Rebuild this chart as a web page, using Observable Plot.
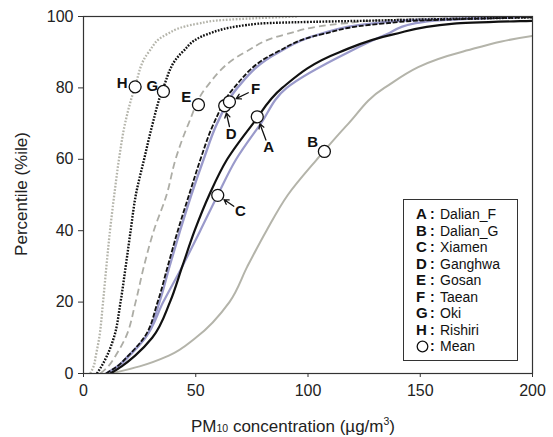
<!DOCTYPE html>
<html>
<head>
<meta charset="utf-8">
<script src="https://cdn.jsdelivr.net/npm/d3@7"></script>
<script src="https://cdn.jsdelivr.net/npm/@observablehq/plot@0.6"></script>
<style>
  html, body { margin: 0; padding: 0; background: #fff; }
  #wrap { position: relative; width: 553px; height: 437px; font-family: "Liberation Sans", Arial, sans-serif; }
  #legend { position: absolute; left: 403px; top: 199px; width: 115px; height: 162px; border: 1.3px solid #333; background: #fff; box-sizing: border-box; padding-top: 6px; }
  #legend div { height: 16.5px; line-height: 16.5px; font-size: 14px; color: #111; white-space: nowrap; }
  #legend .k { display: inline-block; width: 14px; margin-left: 12px; font-weight: bold; font-size: 15px; text-align: left; }
  #legend .c { display: inline-block; width: 10px; font-weight: bold; }
</style>
</head>
<body>
<div id="wrap"></div>
<script>
// Percentile levels shared by every curve
const pctLevels = [0, 2, 5, 10, 20, 30, 40, 50, 60, 70, 80, 90, 95, 98, 99, 100];

// Concentration (µg/m3) at each percentile level, per site
const concH = [3, 4.5, 5.5, 7, 8.7, 10.2, 11.8, 13.7, 15.8, 18.5, 22.8, 29, 37, 51, 62, 95];
const concG = [6, 8, 10.5, 13.5, 16.5, 18.8, 21, 23.3, 27, 30.8, 35.5, 44, 55, 78, 140, 220];
const concE = [7.5, 11, 14.3, 18.7, 23.2, 26.9, 31.3, 37, 41, 46.8, 54.5, 72, 90, 115, 135, 190];
const concD = [10, 15, 20, 26.9, 33, 37.5, 42, 47, 52.1, 58, 67, 86, 106, 133, 155, 215];
const concF = [10.5, 15.5, 20.5, 27.5, 33.8, 38.3, 43, 48, 53.5, 59.5, 68.5, 87, 105, 128, 148, 200];
const concA = [12, 17, 23, 30.6, 38.5, 44, 49.5, 56, 64, 75.5, 88.5, 114, 138, 165, 210, 260];
const concC = [10, 15, 20, 27.5, 35.5, 44, 52, 59.8, 68, 79, 90.5, 118, 135, 147, 160, 200];
const concB = [12, 25, 38, 50, 65, 73, 81.5, 91, 104, 118, 134, 168, 205, 250, 280, 350];

// Site keys, names and mean points
const siteKeys  = ["A", "B", "C", "D", "E", "F", "G", "H"];
const siteNames = ["Dalian_F", "Dalian_G", "Xiamen", "Ganghwa", "Gosan", "Taean", "Oki", "Rishiri"];
const meanConc  = [77.4, 107.3, 59.8, 62.9, 51.2, 65.0, 35.6, 23.0];
const meanPct   = [71.9, 62.2, 49.9, 75.0, 75.3, 76.1, 79.0, 80.3];
// Letter label positions (data units)
const labelConc = [82.5, 102.1, 69.9, 65.8, 45.8, 76.6, 30.7, 17.2];
const labelPct  = [63.3, 64.7, 45.6, 67.0, 77.3, 79.6, 80.5, 81.2];
const hasArrow  = [true, false, true, true, false, true, false, false];

const xTicks = [0, 50, 100, 150, 200];
const yTicks = [0, 20, 40, 60, 80, 100];

const toRows = (conc) => conc.map((c, i) => ({conc: c, pct: pctLevels[i]}));

const lav = "#9a9acb", grayLine = "#b4b4aa", grayDash = "#adada6";

const means = siteKeys.map((k, i) => ({key: k, x: meanConc[i], y: meanPct[i], lx: labelConc[i], ly: labelPct[i], arrow: hasArrow[i]}));

const lineOpts = {x: "conc", y: "pct", curve: "monotone-y", clip: true, strokeLinecap: "butt"};

const chart = Plot.plot({
  width: 553,
  height: 437,
  marginLeft: 83,
  marginRight: 21,
  marginTop: 16,
  marginBottom: 64,
  style: {fontFamily: "Liberation Sans, Arial, sans-serif", fontSize: "16px", color: "#222", background: "#fff"},
  x: {domain: [0, 200]},
  y: {domain: [0, 100]},
  marks: [
    Plot.axisX({ticks: xTicks, tickSize: 4, tickPadding: 7, label: null, fontSize: 16, stroke: "#333"}),
    Plot.axisY({ticks: yTicks, tickSize: 5, tickPadding: 5, label: null, fontSize: 16, stroke: "#333"}),
    Plot.line(toRows(concB), {...lineOpts, stroke: grayLine, strokeWidth: 2}),
    Plot.line(toRows(concH), {...lineOpts, stroke: grayLine, strokeWidth: 2.3, strokeDasharray: "1.7,1.6"}),
    Plot.line(toRows(concE), {...lineOpts, stroke: grayDash, strokeWidth: 1.8, strokeDasharray: "7,4"}),
    Plot.line(toRows(concC), {...lineOpts, stroke: lav, strokeWidth: 2.2}),
    Plot.line(toRows(concF), {...lineOpts, stroke: lav, strokeWidth: 2.4}),
    Plot.line(toRows(concA), {...lineOpts, stroke: "#111", strokeWidth: 2.2}),
    Plot.line(toRows(concD), {...lineOpts, stroke: "#111", strokeWidth: 1.8, strokeDasharray: "5,1.8"}),
    Plot.line(toRows(concG), {...lineOpts, stroke: "#111", strokeWidth: 2.4, strokeDasharray: "1.7,1.4"}),
    Plot.frame({stroke: "#333", strokeWidth: 1.2}),
    Plot.arrow(means.filter(d => d.arrow), {x1: "lx", y1: "ly", x2: "x", y2: "y", stroke: "#111", strokeWidth: 1.3, headLength: 6, insetStart: 8, insetEnd: 7.5}),
    Plot.dot(means, {x: "x", y: "y", r: 6, fill: "#fff", stroke: "#111", strokeWidth: 1.3}),
    Plot.text(means, {x: "lx", y: "ly", text: "key", fontWeight: "bold", fontSize: 15, fill: "#111"})
  ]
});

const wrap = document.getElementById("wrap");
wrap.appendChild(chart);

// Axis titles with sub/superscripts
const svg = d3.select(chart);
const xt = svg.append("text")
  .attr("x", 293).attr("y", 432)
  .attr("text-anchor", "middle")
  .attr("font-size", 17).attr("fill", "#222");
xt.append("tspan").text("PM");
xt.append("tspan").attr("font-size", 10.5).text("10");
xt.append("tspan").text(" concentration (µg/m");
xt.append("tspan").attr("font-size", 10.5).attr("dy", -7).text("3");
xt.append("tspan").attr("dy", 7).text(")");

svg.append("text")
  .attr("transform", "translate(27,194) rotate(-90)")
  .attr("text-anchor", "middle")
  .attr("font-size", 17).attr("fill", "#222")
  .text("Percentile (%ile)");

// Legend
const legend = document.createElement("div");
legend.id = "legend";
siteKeys.forEach((k, i) => {
  const row = document.createElement("div");
  row.innerHTML = `<span class="k">${k}</span><span class="c">:</span>${siteNames[i]}`;
  legend.appendChild(row);
});
const meanRow = document.createElement("div");
meanRow.innerHTML = `<span class="k"><svg width="13" height="13" style="vertical-align:-2px"><circle cx="6.5" cy="6.5" r="5.3" fill="#fff" stroke="#111" stroke-width="1.3"/></svg></span><span class="c">:</span>Mean`;
legend.appendChild(meanRow);
wrap.appendChild(legend);
</script>
</body>
</html>
